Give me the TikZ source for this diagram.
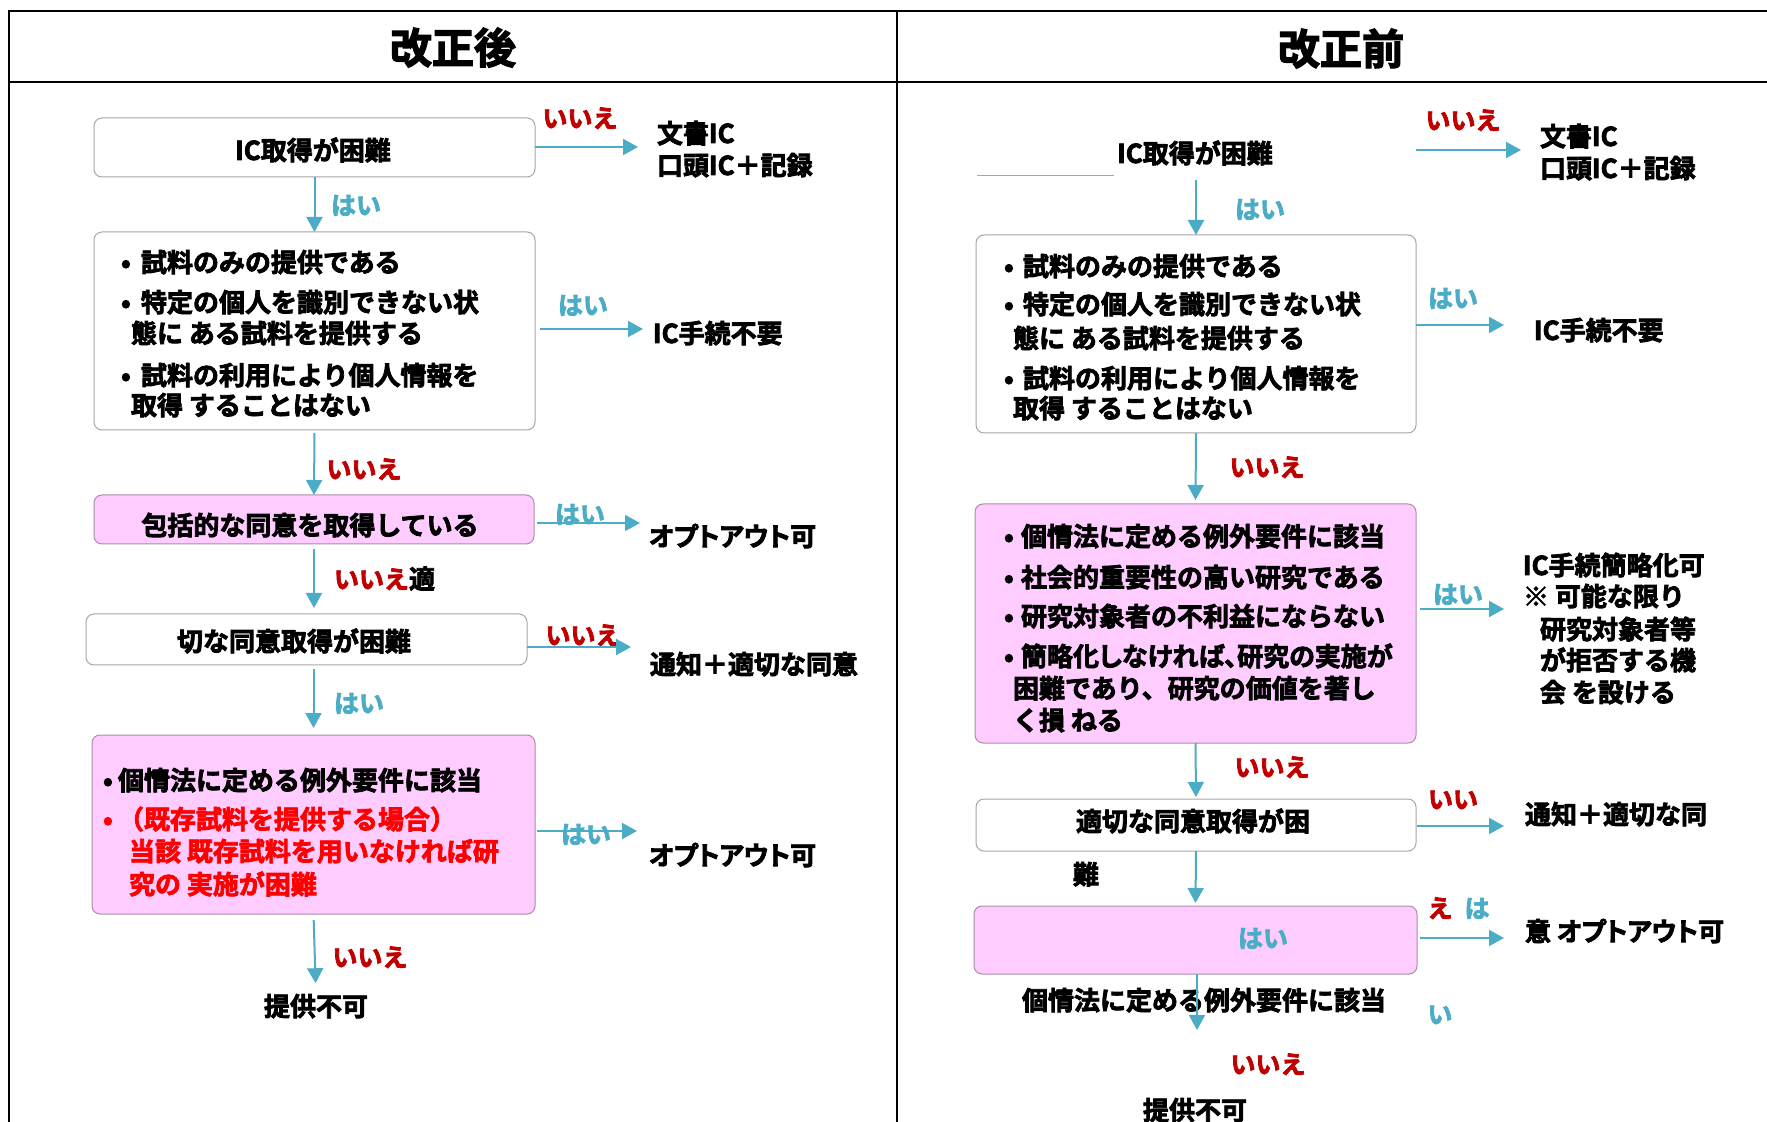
\documentclass[tikz,border=0pt]{standalone}
\usepackage{fontspec}
\setmainfont{Noto Sans CJK JP}[BoldFont={* Bold}, BoldFeatures={FakeBold=3}]
\usetikzlibrary{arrows.meta}
\definecolor{tealc}{HTML}{4BACC6}
\definecolor{dredc}{HTML}{C00000}
\definecolor{bredc}{HTML}{FF0000}
\definecolor{pinkf}{HTML}{FFCCFF}
\definecolor{pinkd}{HTML}{A98FA9}
\definecolor{grayd}{HTML}{A6A6A6}
\newcommand\bx[6]{\node[#6, anchor=north west, minimum width={(#4-#2)*0.5pt}, minimum height={(#5-#3)*0.5pt}] (#1) at (#2,#3) {};}
\newcommand\blt[1]{\makebox[#1][l]{•}}
\newcommand\prop{\addfontfeature{RawFeature=+palt}}
\tikzset{
 base/.style={inner sep=0pt, outer sep=0pt},
 txt/.style={base, font=\bfseries\fontsize{13pt}{15pt}\selectfont, text height=10.4pt, text depth=0.4pt},
 tl/.style={txt, anchor=west},
 lab/.style={base, font=\bfseries\fontsize{12.5pt}{14pt}\selectfont, text height=9.8pt, text depth=0.2pt},
 yes/.style={lab, text=tealc},
 no/.style={lab, text=dredc},
 ttl/.style={base, font=\bfseries\fontsize{21pt}{24pt}\selectfont, text height=16.5pt, text depth=0pt},
 wbox/.style={base, draw=grayd, line width=0.5pt, fill=white, rounded corners=4pt},
 pbox/.style={base, draw=pinkd, line width=0.5pt, fill=pinkf, rounded corners=4pt},
 arr/.style={draw=tealc, line width=1pt, -{Triangle[length=7.5pt,width=8pt]}},
 frame/.style={line width=1.2pt, black},
}
\begin{document}
\begin{tikzpicture}[x=0.5pt,y=-0.5pt]
\useasboundingbox[fill=white] (0,0) rectangle (1767,1122);
% frame
\draw[frame] (9,1122) -- (9,11) -- (1767,11);
\draw[frame] (9,82) -- (1767,82);
\draw[frame] (897,11) -- (897,1122);
\node[ttl] (tA) at (453,47) {改正後};
\node[ttl] (tB) at (1341,48) {改正前};

% ---------- left column ----------
\bx{L1}{94}{118}{535}{177}{wbox}
\bx{L2}{94}{232}{535}{430}{wbox}
\bx{L3}{94}{495}{534}{544}{pbox}
\bx{L4}{86}{614}{527}{665}{wbox}
\bx{L5}{92}{735}{535}{914}{pbox}

\node[txt] (L1t) at (313,150) {IC取得が困難};
\node[tl] (L1r1) at (657,133) {文書IC};
\node[tl] (L1r2) at (657,165) {口頭IC＋記録};

\node[tl] (L2a) at (121,262) {\blt{10pt}試料のみの提供である};
\node[tl] (L2b) at (121,302) {\blt{10pt}特定の個人を識別できない状};
\node[tl] (L2c) at (131,333) {態に ある試料を提供する};
\node[tl] (L2d) at (121,375) {\blt{10pt}試料の利用により個人情報を};
\node[tl] (L2e) at (131,405) {取得 することはない};
\node[tl] (L2r) at (653,333) {IC手続不要};

\node[txt] (L3t) at (310,525) {包括的な同意を取得している};
\node[tl] (L3r) at (649,536) {\prop オプトアウト可};

\node[txt] (L4t) at (294,641) {切な同意取得が困難};
\node[tl] (L4r) at (650,664) {通知＋適切な同意};

\node[tl] (L5a) at (103,780) {\blt{7.5pt}個情法に定める例外要件に該当};
\node[tl, text=bredc] (L5b) at (103,819) {\blt{7.5pt}（既存試料を提供する場合）};
\node[tl, text=bredc] (L5c) at (129,851) {当該 既存試料を用いなければ研};
\node[tl, text=bredc] (L5d) at (129,884) {究の 実施が困難};
\node[tl] (L5r) at (649,855) {\prop オプトアウト可};
\node[txt] (Lend) at (316,1006) {提供不可};

% labels left
\node[no] (n1) at (580,118) {いいえ};
\node[yes] (y1) at (356,205) {はい};
\node[yes] (y2) at (583,305) {はい};
\node[no] (n2) at (364,469) {いいえ};
\node[yes] (y3) at (580,514) {はい};
\node[no, anchor=west] (n3) at (334,579) {いいえ{\color{black}\fontsize{13pt}{15pt}\selectfont 適}};
\node[no] (n4) at (583,635) {いいえ};
\node[yes] (y4) at (359,703) {はい};
\node[yes] (y5) at (586,834) {はい};
\node[no] (n5) at (370,957) {いいえ};

% arrows left
\coordinate (L1e) at (638,147);
\coordinate (L2e) at (643,329);
\coordinate (L3e) at (640,523);
\coordinate (L4e) at (631,647);
\coordinate (L5e) at (637,831);
\draw[arr] (L1.east |- L1e) -- (L1e);
\draw[arr] (L1.south) -- (L2.north);
\draw[arr, shorten <=2.5pt] (L2.east |- L2e) -- (L2e);
\draw[arr, shorten <=1.5pt] (L2.south) -- (L3.north);
\draw[arr, shorten <=1.5pt] (L3.east |- L3e) -- (L3e);
\draw[arr, shorten <=2.5pt, shorten >=3pt] (L3.south) -- (L3.south |- L4.north);
\draw[arr] (L4.east |- L4e) -- (L4e);
\draw[arr, shorten <=2pt, shorten >=3.5pt] (L5.north |- L4.south) -- (L5.north);
\draw[arr, shorten <=1pt] (L5.east |- L5e) -- (L5e);
\draw[arr, shorten <=3pt, shorten >=6pt] (L5.south) -- (Lend.north);

% ---------- right column ----------
\bx{R2}{976}{235}{1416}{433}{wbox}
\bx{R3}{975}{504}{1416}{743}{pbox}
\bx{R4}{976}{799}{1416}{851}{wbox}
\bx{R5}{974}{906}{1417}{974}{pbox}

\node[txt] (R1t) at (1195,153) {IC取得が困難};
\draw[grayd, line width=0.5pt] (977,176) -- (1114,176);
\node[tl] (R1r1) at (1540,136) {文書IC};
\node[tl] (R1r2) at (1540,168) {口頭IC＋記録};

\node[tl] (R2a) at (1004,266) {\blt{9.5pt}試料のみの提供である};
\node[tl] (R2b) at (1004,304) {\blt{9.5pt}特定の個人を識別できない状};
\node[tl] (R2c) at (1013,338) {態に ある試料を提供する};
\node[tl] (R2d) at (1004,378) {\blt{9.5pt}試料の利用により個人情報を};
\node[tl] (R2e) at (1013,408) {取得 することはない};
\node[tl] (R2r) at (1534,330) {IC手続不要};

\node[tl] (R3a) at (1004,536) {\blt{8.5pt}個情法に定める例外要件に該当};
\node[tl] (R3b) at (1004,577) {\blt{8.5pt}社会的重要性の高い研究である};
\node[tl] (R3c) at (1004,616) {\blt{8.5pt}研究対象者の不利益にならない};
\node[tl] (R3d) at (1004,656) {\blt{8.5pt}{\prop 簡略化しなければ、研究の実施が}};
\node[tl] (R3e) at (1013,688) {困難であり、研究の価値を著し};
\node[tl] (R3f) at (1013,720) {く損 ねる};
\node[tl] (R3r1) at (1523,565) {IC手続簡略化可};
\node[tl] (R3r2) at (1523,596) {※ 可能な限り};
\node[tl] (R3r3) at (1540,629) {研究対象者等};
\node[tl] (R3r4) at (1540,660) {が拒否する機};
\node[tl] (R3r5) at (1540,692) {会 を設ける};

\node[txt] (R4t) at (1193,821) {適切な同意取得が困};
\node[txt] (R4u) at (1086,874) {難};
\node[tl] (R4r) at (1525,814) {通知＋適切な同};

\node[tl] (R5r) at (1525,931) {意 {\prop オプトアウト可}};
\node[txt] (R5u) at (1204,1000) {個情法に定める例外要件に該当};
\node[txt] (Rend) at (1195,1110) {提供不可};

% labels right
\node[no] (m1) at (1463,120) {いいえ};
\node[yes] (z1) at (1260,209) {はい};
\node[yes] (z2) at (1453,298) {はい};
\node[no] (m2) at (1267,467) {いいえ};
\node[yes] (z3) at (1458,594) {はい};
\node[no] (m3) at (1272,767) {いいえ};
\node[no] (m4) at (1453,799) {いい};
\node[yes] (z4) at (1263,938) {はい};
\node[no] (m5) at (1440,908) {え};
\node[yes] (z5) at (1477,908) {は};
\node[yes] (z6) at (1440,1014) {い};
\node[no] (m6) at (1268,1064) {いいえ};

% arrows right
\coordinate (R1s) at (1416,150);
\coordinate (R1e) at (1521,150);
\coordinate (R2e) at (1504,325);
\coordinate (R3e) at (1504,609);
\coordinate (R4e) at (1504,826);
\coordinate (R5e) at (1504,938);
\coordinate (R5d) at (1197,1030);
\draw[arr] (R1s) -- (R1e);
\draw[arr, shorten <=8pt] (R2.north |- R1t.south) -- (R2.north);
\draw[arr] (R2.east |- R2e) -- (R2e);
\draw[arr, shorten >=2pt] (R2.south) -- (R3.north);
\draw[arr, shorten <=2pt] (R3.east |- R3e) -- (R3e);
\draw[arr, shorten >=1pt] (R3.south) -- (R4.north);
\draw[arr, shorten <=0.5pt] (R4.east |- R4e) -- (R4e);
\draw[arr, shorten >=1.5pt] (R4.south) -- (R5.north);
\draw[arr, shorten <=1.5pt] (R5.east |- R5e) -- (R5e);
\draw[arr] (R5.south -| R5d) -- (R5d);
\end{tikzpicture}
\end{document}
